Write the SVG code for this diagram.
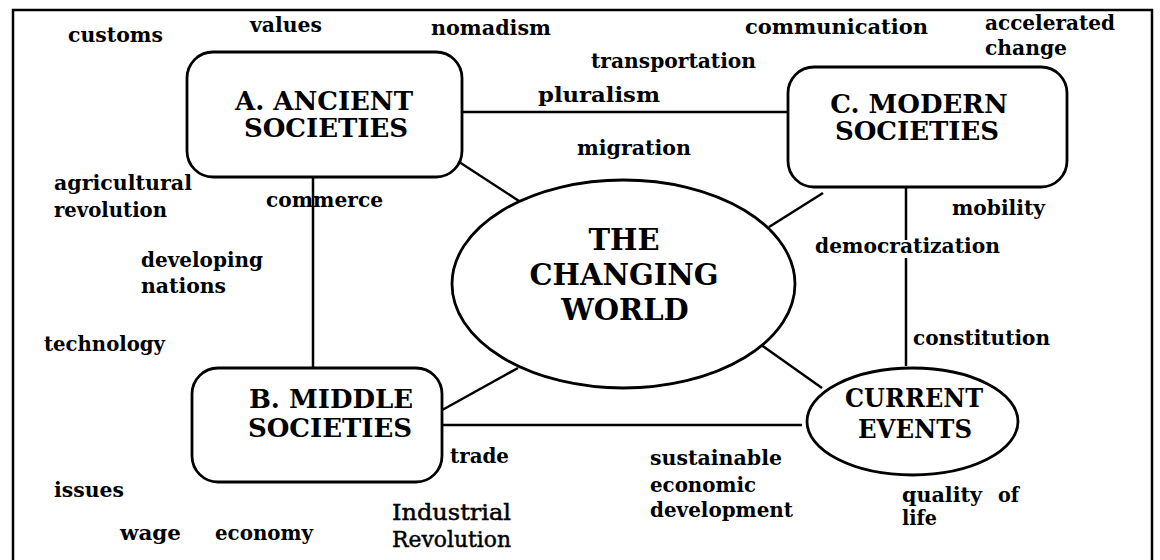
<svg xmlns="http://www.w3.org/2000/svg" width="1160" height="560" viewBox="0 0 1160 560">
<style>
.bg{fill:#fff}
.frame{fill:none;stroke:#000;stroke-width:2.5}
.node{fill:#fff;stroke:#000;stroke-width:2.8}
.conn line{stroke:#000;stroke-width:2.5;stroke-linecap:butt}
.t{font-family:"DejaVu Serif","Liberation Serif",serif;font-weight:bold;font-size:21px;fill:#000}
.n{font-family:"DejaVu Serif","Liberation Serif",serif;font-weight:bold;font-size:26px;fill:#000;text-anchor:middle}
.w{font-family:"DejaVu Serif","Liberation Serif",serif;font-weight:bold;font-size:29px;fill:#000;text-anchor:middle}
.r{font-family:"DejaVu Serif","Liberation Serif",serif;font-weight:normal;font-size:23px;fill:#000;stroke:#000;stroke-width:0.5}
</style>
<rect class="bg" x="0" y="0" width="1160" height="560"/>
<path class="frame" d="M13,572 V10 H1152 V572"/>
<g id="connectors" class="conn">
<line x1="462" y1="112" x2="788" y2="112"/>
<line x1="313" y1="177" x2="313" y2="368"/>
<line x1="450" y1="156" x2="519" y2="201"/>
<line x1="823" y1="193" x2="769" y2="227"/>
<line x1="906" y1="187" x2="906" y2="240"/>
<line x1="906" y1="258" x2="906" y2="366"/>
<line x1="518" y1="368" x2="435" y2="414"/>
<line x1="757" y1="342" x2="822" y2="388"/>
<line x1="434" y1="425" x2="802" y2="425"/>
</g>
<g id="nodeA">
<rect class="node" x="187" y="52" width="275" height="125" rx="26"/>
<text class="n" x="324" y="110">A. ANCIENT</text>
<text class="n" x="326" y="137">SOCIETIES</text>
</g>
<g id="nodeB">
<rect class="node" x="192" y="368" width="250" height="114" rx="26"/>
<text class="n" x="331" y="408">B. MIDDLE</text>
<text class="n" x="330" y="437">SOCIETIES</text>
</g>
<g id="nodeC">
<rect class="node" x="788" y="67" width="279" height="120" rx="26"/>
<text class="n" x="919" y="113">C. MODERN</text>
<text class="n" x="917" y="140">SOCIETIES</text>
</g>
<g id="nodeWorld">
<ellipse class="node" cx="623.5" cy="284" rx="171.5" ry="104"/>
<text class="w" x="624" y="250">THE</text>
<text class="w" x="624" y="285">CHANGING</text>
<text class="w" x="625" y="320">WORLD</text>
</g>
<g id="nodeEvents">
<ellipse class="node" cx="912.5" cy="421.5" rx="105.5" ry="53.5"/>
<text class="n" x="914" y="407" textLength="138" lengthAdjust="spacingAndGlyphs">CURRENT</text>
<text class="n" x="915" y="438" textLength="114" lengthAdjust="spacingAndGlyphs">EVENTS</text>
</g>
<g id="labels">
<text class="t" x="68" y="42" textLength="95" lengthAdjust="spacingAndGlyphs">customs</text>
<text class="t" x="250" y="32" textLength="72" lengthAdjust="spacingAndGlyphs">values</text>
<text class="t" x="431" y="35" textLength="120" lengthAdjust="spacingAndGlyphs">nomadism</text>
<text class="t" x="745" y="34" textLength="183" lengthAdjust="spacingAndGlyphs">communication</text>
<text class="t" x="985" y="30" textLength="130" lengthAdjust="spacingAndGlyphs">accelerated</text>
<text class="t" x="985" y="55" textLength="82" lengthAdjust="spacingAndGlyphs">change</text>
<text class="t" x="591" y="68" textLength="165" lengthAdjust="spacingAndGlyphs">transportation</text>
<text class="t" x="538" y="102" textLength="122" lengthAdjust="spacingAndGlyphs">pluralism</text>
<text class="t" x="577" y="155" textLength="114" lengthAdjust="spacingAndGlyphs">migration</text>
<text class="t" x="54" y="190" textLength="138" lengthAdjust="spacingAndGlyphs">agricultural</text>
<text class="t" x="54" y="217" textLength="113" lengthAdjust="spacingAndGlyphs">revolution</text>
<text class="t" x="266" y="207" textLength="117" lengthAdjust="spacingAndGlyphs">commerce</text>
<text class="t" x="141" y="267" textLength="122" lengthAdjust="spacingAndGlyphs">developing</text>
<text class="t" x="141" y="293" textLength="85" lengthAdjust="spacingAndGlyphs">nations</text>
<text class="t" x="44" y="351" textLength="121" lengthAdjust="spacingAndGlyphs">technology</text>
<text class="t" x="952" y="215" textLength="93" lengthAdjust="spacingAndGlyphs">mobility</text>
<text class="t" x="815" y="253" textLength="185" lengthAdjust="spacingAndGlyphs">democratization</text>
<text class="t" x="913" y="345" textLength="137" lengthAdjust="spacingAndGlyphs">constitution</text>
<text class="t" x="450" y="463" textLength="59" lengthAdjust="spacingAndGlyphs">trade</text>
<text class="t" x="54" y="497" textLength="70" lengthAdjust="spacingAndGlyphs">issues</text>
<text class="t" x="120" y="540" textLength="61" lengthAdjust="spacingAndGlyphs">wage</text>
<text class="t" x="215" y="540" textLength="98" lengthAdjust="spacingAndGlyphs">economy</text>
<text class="r" x="392" y="520" textLength="119" lengthAdjust="spacingAndGlyphs">Industrial</text>
<text class="r" x="392" y="547" textLength="119" lengthAdjust="spacingAndGlyphs">Revolution</text>
<text class="t" x="650" y="465" textLength="132" lengthAdjust="spacingAndGlyphs">sustainable</text>
<text class="t" x="650" y="492" textLength="106" lengthAdjust="spacingAndGlyphs">economic</text>
<text class="t" x="650" y="517" textLength="143" lengthAdjust="spacingAndGlyphs">development</text>
<text class="t" x="902" y="502" textLength="80" lengthAdjust="spacingAndGlyphs">quality</text>
<text class="t" x="998" y="502" textLength="21" lengthAdjust="spacingAndGlyphs">of</text>
<text class="t" x="902" y="525" textLength="35" lengthAdjust="spacingAndGlyphs">life</text>
</g>
</svg>
